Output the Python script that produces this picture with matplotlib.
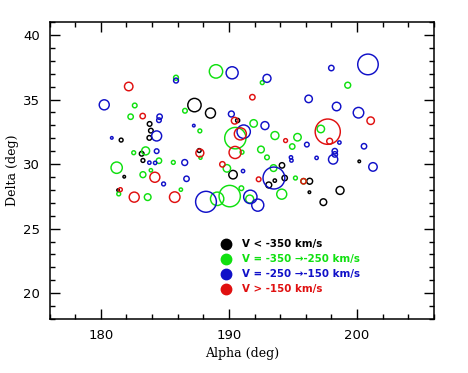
import matplotlib
matplotlib.use('Agg')
import matplotlib.pyplot as plt
from matplotlib.patches import Circle
from matplotlib.ticker import MultipleLocator

# V < -350 km/s
black_ra = [187.31, 188.56, 190.68, 183.81, 183.91, 183.79, 181.59, 187.68, 183.19, 183.29,
            181.83, 181.35, 190.32, 194.14, 193.11, 193.58, 194.35, 196.30, 196.28, 198.67,
            197.37, 200.17]
black_dec = [34.57, 33.95, 33.38, 33.11, 32.59, 32.03, 31.86, 31.05, 30.80, 30.28,
             29.02, 27.98, 29.18, 29.90, 28.38, 28.72, 28.92, 28.67, 27.82, 27.96,
             27.05, 30.21]
black_r = [0.52, 0.39, 0.16, 0.18, 0.18, 0.18, 0.15, 0.15, 0.18, 0.15,
           0.10, 0.10, 0.33, 0.21, 0.23, 0.13, 0.21, 0.23, 0.10, 0.31,
           0.26, 0.10]

# -350 < V < -250 km/s
green_ra = [185.87, 188.99, 192.60, 199.27, 182.65, 186.57, 182.33, 187.73, 191.93, 190.50,
            193.59, 195.35, 194.94, 197.17, 192.50, 191.02, 192.97, 182.57, 183.50, 184.54,
            185.66, 187.78, 181.24, 183.91, 183.29, 186.25, 181.40, 183.66, 189.84, 193.48,
            195.19, 195.82, 189.08, 190.06, 190.97, 191.62, 194.12]
green_dec = [36.69, 37.18, 36.31, 36.11, 34.54, 34.13, 33.67, 32.57, 33.15, 32.01,
             32.21, 32.08, 31.36, 32.72, 31.13, 30.92, 30.52, 30.88, 31.02, 30.26,
             30.13, 30.49, 29.72, 29.52, 29.18, 28.02, 27.69, 27.44, 29.67, 29.69,
             28.92, 28.67, 27.31, 27.52, 28.13, 27.29, 27.67]
green_r = [0.19, 0.52, 0.15, 0.23, 0.18, 0.18, 0.21, 0.15, 0.29, 0.83,
           0.31, 0.29, 0.21, 0.29, 0.26, 0.15, 0.18, 0.15, 0.31, 0.21,
           0.15, 0.12, 0.44, 0.13, 0.23, 0.13, 0.15, 0.26, 0.29, 0.26,
           0.15, 0.21, 0.52, 0.83, 0.18, 0.31, 0.39]

# -250 < V < -150 km/s
blue_ra = [200.85, 197.99, 190.25, 192.97, 185.87, 180.27, 196.22, 198.40, 200.11, 184.59,
           184.54, 190.19, 187.26, 192.81, 191.15, 180.86, 184.36, 184.36, 196.08, 198.62,
           200.54, 198.26, 198.26, 198.13, 196.84, 194.84, 194.88, 201.24, 183.79, 184.24,
           186.55, 191.10, 186.69, 184.90, 193.51, 188.21, 191.67, 192.25]
blue_dec = [37.72, 37.44, 37.07, 36.64, 36.47, 34.59, 35.05, 34.46, 33.98, 33.67,
            33.40, 33.88, 32.98, 32.98, 32.51, 32.03, 32.18, 31.00, 31.51, 31.67,
            31.38, 31.00, 30.75, 30.36, 30.48, 30.52, 30.28, 29.78, 30.11, 30.09,
            30.12, 29.46, 28.86, 28.46, 28.92, 27.08, 27.46, 26.82]
blue_r = [0.80, 0.21, 0.47, 0.31, 0.19, 0.39, 0.29, 0.33, 0.41, 0.21,
          0.18, 0.23, 0.10, 0.31, 0.52, 0.10, 0.39, 0.18, 0.18, 0.13,
          0.21, 0.21, 0.21, 0.36, 0.13, 0.13, 0.13, 0.33, 0.13, 0.13,
          0.23, 0.13, 0.21, 0.15, 0.85, 0.81, 0.52, 0.47]

# V > -150 km/s
red_ra = [182.18, 191.83, 201.06, 183.27, 190.45, 190.89, 194.42, 197.71, 197.86, 187.73,
          190.48, 189.49, 184.22, 181.53, 182.61, 185.77, 192.32, 195.82]
red_dec = [36.01, 35.18, 33.36, 33.72, 33.36, 32.34, 31.82, 32.51, 31.77, 30.86,
           30.90, 29.98, 28.98, 28.02, 27.44, 27.44, 28.82, 28.67]
red_r = [0.33, 0.21, 0.29, 0.21, 0.26, 0.47, 0.15, 0.98, 0.23, 0.31,
         0.47, 0.21, 0.39, 0.15, 0.39, 0.41, 0.18, 0.21]

groups = [
    ('black', 'V < -350 km/s', black_ra, black_dec, black_r),
    ('#10e010', 'V = -350 \u2192-250 km/s', green_ra, green_dec, green_r),
    ('#1010c8', 'V = -250 \u2192-150 km/s', blue_ra, blue_dec, blue_r),
    ('#e01010', 'V > -150 km/s', red_ra, red_dec, red_r),
]

fig = plt.figure(figsize=(4.68, 3.73), dpi=100)
ax = fig.add_axes([0.1058, 0.1448, 0.8215, 0.796])

for colour, label, ra, dec, rad in groups:
    for x, y, r in zip(ra, dec, rad):
        ax.add_patch(Circle((x, y), r, fill=False, edgecolor=colour, linewidth=1.05))

ax.set_xlim(176, 206)
ax.set_ylim(18, 41)
ax.xaxis.set_major_locator(MultipleLocator(10))
ax.xaxis.set_minor_locator(MultipleLocator(2))
ax.yaxis.set_major_locator(MultipleLocator(5))
ax.yaxis.set_minor_locator(MultipleLocator(1))
ax.tick_params(which='both', direction='in', top=True, right=True, width=1.0,
               labelsize=9.5, pad=7)
ax.tick_params(which='major', length=7)
ax.tick_params(which='minor', length=3.5)
for sp in ax.spines.values():
    sp.set_linewidth(1.1)

ax.set_xlabel('Alpha (deg)', family='DejaVu Serif', fontsize=9, labelpad=4)
ax.set_ylabel('Delta (deg)', family='DejaVu Serif', fontsize=9, labelpad=3)

# legend rows: filled dot plus coloured text
rows = [0.2515, 0.201, 0.1515, 0.100]
for (colour, label, *_), yy in zip(groups, rows):
    ax.plot([0.459], [yy], 'o', color=colour, markersize=7.5, transform=ax.transAxes)
    ax.text(0.50, yy, label, color=colour, fontsize=7.4, fontweight='bold',
            va='center', ha='left', transform=ax.transAxes)

fig.savefig('out.png', dpi=100)
